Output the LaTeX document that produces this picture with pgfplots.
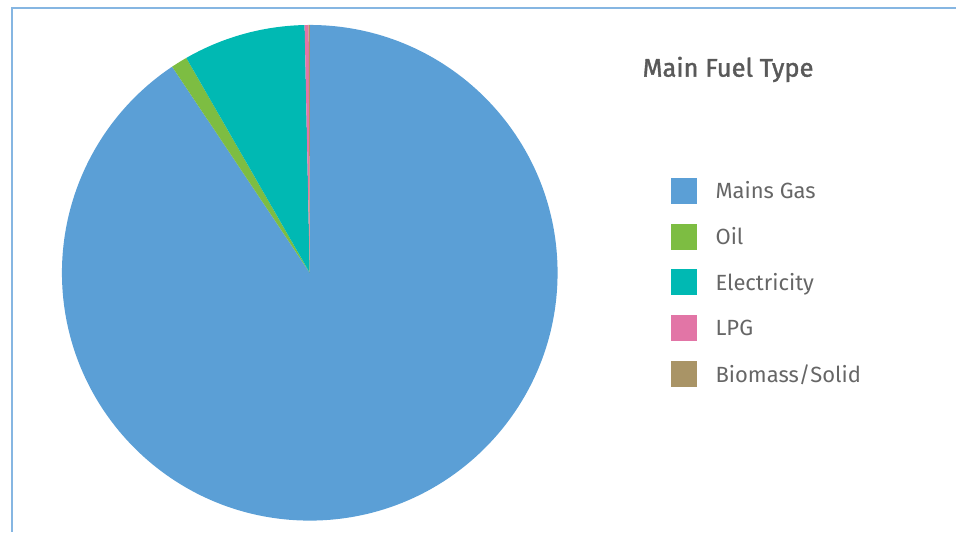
\documentclass[border=0pt]{standalone}
\usepackage{pgfplots}
\pgfplotsset{compat=1.18}
\usepackage{pgfplotstable}
\usepackage{fontspec}
\setmainfont{Fira Sans}
\newfontfamily\titlefont{Fira Sans}[FakeBold=1.5]
\definecolor{cMains}{HTML}{5B9FD6}
\definecolor{cOil}{HTML}{7DBD42}
\definecolor{cElec}{HTML}{00B9B3}
\definecolor{cLPG}{HTML}{E275A6}
\definecolor{cBio}{HTML}{A99466}
\definecolor{frameblue}{HTML}{86B6E2}
\definecolor{titlegray}{HTML}{595959}
\definecolor{legendgray}{HTML}{666666}
\pgfplotstableread{
name value color
{Mains Gas} 90.63 cMains
Oil 1.07 cOil
Electricity 7.97 cElec
LPG 0.26 cLPG
{Biomass/Solid} 0.07 cBio
}\fueldata
\begin{document}
\begin{tikzpicture}
\begin{axis}[
  scale only axis, width=957pt, height=532pt,
  xmin=0, xmax=957, ymin=0, ymax=532,
  hide axis, clip=false,
  legend style={at={(axis cs:672,354.3)}, anchor=north west, draw=none, fill=none,
    inner sep=0pt, outer sep=0pt, row sep=20.6pt,
    font=\fontsize{22}{25}\selectfont, text=legendgray,
    nodes={inner sep=0pt},
    /tikz/every odd column/.append style={column sep=18.7pt}},
  legend cell align=left,
  legend image code/.code={\fill[#1] (0pt,-12.5pt) rectangle (25pt,12.5pt);},
]
\path (axis cs:0,0) rectangle (axis cs:957,532);
\draw[frameblue, line width=1.5pt] (axis cs:12,0) -- (axis cs:12,524) -- (axis cs:957,524);
\gdef\startang{90}
\pgfplotsforeachungrouped \i in {0,...,4}{%
  \pgfplotstablegetelem{\i}{value}\of\fueldata \let\v\pgfplotsretval
  \pgfplotstablegetelem{\i}{color}\of\fueldata \let\c\pgfplotsretval
  \pgfmathsetmacro\endang{\startang - 3.6*\v}%
  \edef\temp{\noexpand\fill[\c] (axis cs:310,259) -- ++(\startang:248pt) arc[start angle=\startang, end angle=\endang, radius=248pt] -- cycle;}%
  \temp
  \global\let\startang\endang
}
\addlegendimage{cMains}\addlegendentry{Mains Gas}
\addlegendimage{cOil}\addlegendentry{Oil}
\addlegendimage{cElec}\addlegendentry{Electricity}
\addlegendimage{cLPG}\addlegendentry{LPG}
\addlegendimage{cBio}\addlegendentry{Biomass/Solid}
\node[anchor=base west, inner sep=0pt, text=titlegray, font=\titlefont\fontsize{25.5}{28}\selectfont] at (axis cs:643,455.3) {Main Fuel Type};
\end{axis}
\end{tikzpicture}
\end{document}
